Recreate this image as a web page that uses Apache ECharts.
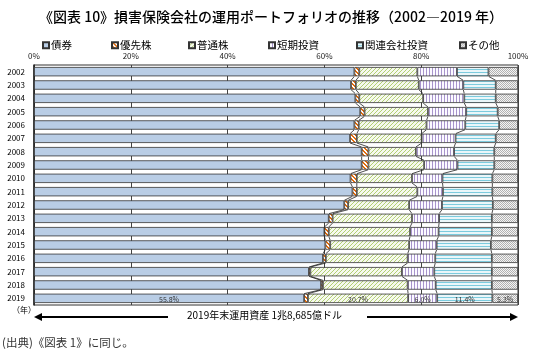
<!DOCTYPE html>
<html>
<head>
<meta charset="utf-8">
<script src="https://cdn.jsdelivr.net/npm/echarts@6/dist/echarts.min.js"></script>
<style>
  html, body { margin: 0; padding: 0; background: #fff; }
  #chart { width: 535px; height: 354px; }
</style>
</head>
<body>
<div id="chart"></div>
<script>
const years = ['2002', '2003', '2004', '2005', '2006', '2007', '2008', '2009', '2010',
  '2011', '2012', '2013', '2014', '2015', '2016', '2017', '2018', '2019']
const names = ['債券', '優先株', '普通株', '短期投資', '関連会社投資', 'その他']
const bonds = [66.2, 65.5, 66.4, 67.4, 66.2, 65.3, 67.7, 67.7, 65.4, 65.8, 64.1, 60.9, 60.0, 60.2, 59.7, 56.8, 59.3, 55.8]
const preferred = [1.0, 1.0, 0.8, 0.9, 0.9, 1.4, 1.4, 1.4, 1.3, 0.9, 0.8, 0.8, 0.9, 1.0, 0.6, 0.3, 0.4, 0.8]
const common = [12.0, 13.0, 13.2, 13.1, 14.0, 13.4, 9.8, 11.5, 11.4, 12.5, 12.6, 16.4, 16.8, 16.3, 16.9, 18.9, 17.5, 20.7]
const shortTerm = [8.2, 9.2, 8.5, 7.9, 8.0, 7.0, 7.9, 6.9, 6.3, 5.3, 6.8, 5.6, 5.9, 5.7, 5.7, 6.7, 5.8, 6.0]
const affiliated = [6.5, 6.7, 6.5, 6.5, 7.0, 8.3, 8.3, 7.6, 10.3, 10.2, 10.5, 10.9, 11.0, 11.2, 11.7, 11.9, 11.6, 11.4]
const other = [6.1, 4.6, 4.6, 4.2, 3.9, 4.6, 4.9, 4.9, 5.3, 5.3, 5.2, 5.4, 5.4, 5.6, 5.4, 5.4, 5.4, 5.3]
const xTicks = [0, 20, 40, 60, 80, 100]

const allData = [bonds, preferred, common, shortTerm, affiliated, other]
const labelled = [true, false, true, true, true, true]
const legendX = [37, 106, 183, 263, 351, 454]

// small tiled canvas patterns, like the Excel fills
function pat(size, bg, draw) {
  const c = document.createElement('canvas')
  c.width = c.height = size
  const g = c.getContext('2d')
  g.fillStyle = bg
  g.fillRect(0, 0, size, size)
  draw(g, size)
  return { image: c, repeat: 'repeat' }
}
const fills = [
  '#b9cde5',
  pat(4, '#ffffff', (g, s) => {
    g.fillStyle = '#e36c0a'
    for (let i = 0; i < s; i++) { g.fillRect(i, i, 1, 1); g.fillRect((i + 1) % s, i, 1, 1) }
  }),
  pat(4, '#f6f9ee', (g, s) => {
    g.fillStyle = '#b2cf74'
    for (let i = 0; i < s; i++) g.fillRect(s - 1 - i, i, 1, 1)
  }),
  pat(3, '#fbfaff', (g, s) => { g.fillStyle = '#a895cc'; g.fillRect(0, 0, 1, s) }),
  pat(3, '#eaf6f9', (g, s) => { g.fillStyle = '#7ccbde'; g.fillRect(0, 0, s, 1) }),
  pat(2, '#f4f4f4', (g) => { g.fillStyle = '#b2b2b2'; g.fillRect(0, 0, 1, 1); g.fillRect(1, 1, 1, 1) })
]

// cumulative boundaries for the series lines
const cum = years.map((_, i) => {
  let s = 0
  return allData.slice(0, 5).map(d => (s += d[i]))
})
const lineData = []
for (let i = 0; i < years.length - 1; i++) {
  for (let k = 0; k < 5; k++) lineData.push([cum[i][k], i, cum[i + 1][k], i + 1])
}

const gap = 0.3
const barSeries = allData.map((d, k) => ({
  name: names[k],
  type: 'bar',
  stack: 'all',
  barCategoryGap: '30%',
  itemStyle: { color: fills[k], borderColor: '#333', borderWidth: 0.8 },
  data: d.map((v, i) => ({
    value: v,
    label: {
      show: labelled[k] && i === years.length - 1,
      formatter: v.toFixed(1) + '%',
      position: 'insideBottom',
      distance: 0,
      fontSize: 7,
      color: '#333'
    }
  }))
}))

const seriesLines = {
  type: 'custom',
  silent: true,
  z: 3,
  data: lineData,
  renderItem(params, api) {
    const p1 = api.coord([api.value(0), api.value(1)])
    const p2 = api.coord([api.value(2), api.value(3)])
    const half = api.size([0, 1])[1] * (1 - gap) / 2
    return {
      type: 'line',
      shape: { x1: p1[0], y1: p1[1] + half, x2: p2[0], y2: p2[1] - half },
      style: { stroke: '#222', lineWidth: 0.8 }
    }
  }
}

const chart = echarts.init(document.getElementById('chart'))
const font = "'Noto Sans CJK JP', 'Liberation Sans', sans-serif"
chart.setOption({
  animation: false,
  textStyle: { fontFamily: font },
  title: {
    text: '《図表 10》損害保険会社の運用ポートフォリオの推移（2002―2019 年）',
    left: 34,
    top: 5,
    textStyle: { fontSize: 14, fontWeight: 500, color: '#000' }
  },
  legend: names.map((n, i) => ({
    data: [n],
    left: legendX[i],
    top: 35,
    itemWidth: 6,
    itemHeight: 6,
    icon: 'rect',
    textStyle: { fontSize: 10.5, color: '#000', padding: [0, 0, 0, -3] }
  })),
  grid: {
    left: 34, right: 17, top: 65, bottom: 49,
    show: true, borderColor: '#333', borderWidth: 1
  },
  xAxis: {
    type: 'value',
    position: 'top',
    min: xTicks[0],
    max: xTicks[xTicks.length - 1],
    interval: 20,
    axisLine: { show: false },
    axisTick: { show: false },
    axisLabel: { formatter: '{value}%', fontSize: 8, color: '#222', margin: 5 },
    splitLine: { show: true, lineStyle: { color: '#444', width: 1 } }
  },
  yAxis: {
    type: 'category',
    data: years,
    inverse: true,
    axisLine: { show: true, lineStyle: { color: '#222', width: 1.5 } },
    axisTick: { show: false },
    axisLabel: { fontSize: 8, color: '#000', margin: 9 }
  },
  series: [...barSeries, seriesLines],
  graphic: [
    { type: 'text', left: 12, top: 306, style: { text: '（年）', fontSize: 8, fill: '#000', fontFamily: font } },
    { type: 'line', shape: { x1: 40, y1: 317, x2: 168, y2: 317 }, style: { stroke: '#000', lineWidth: 2 } },
    { type: 'polygon', shape: { points: [[34, 317], [42, 313], [42, 321]] }, style: { fill: '#000' } },
    {
      type: 'text', left: 187, top: 310,
      style: { text: '2019年末運用資産 1兆8,685億ドル', fontSize: 10, fill: '#000', fontFamily: font }
    },
    { type: 'line', shape: { x1: 367, y1: 317, x2: 511, y2: 317 }, style: { stroke: '#000', lineWidth: 2 } },
    { type: 'polygon', shape: { points: [[518, 317], [510, 313], [510, 321]] }, style: { fill: '#000' } },
    {
      type: 'text', left: 2, top: 337,
      style: { text: '(出典)《図表 1》に同じ。', fontSize: 11.5, fill: '#333', fontFamily: font }
    }
  ]
})
</script>
</body>
</html>
